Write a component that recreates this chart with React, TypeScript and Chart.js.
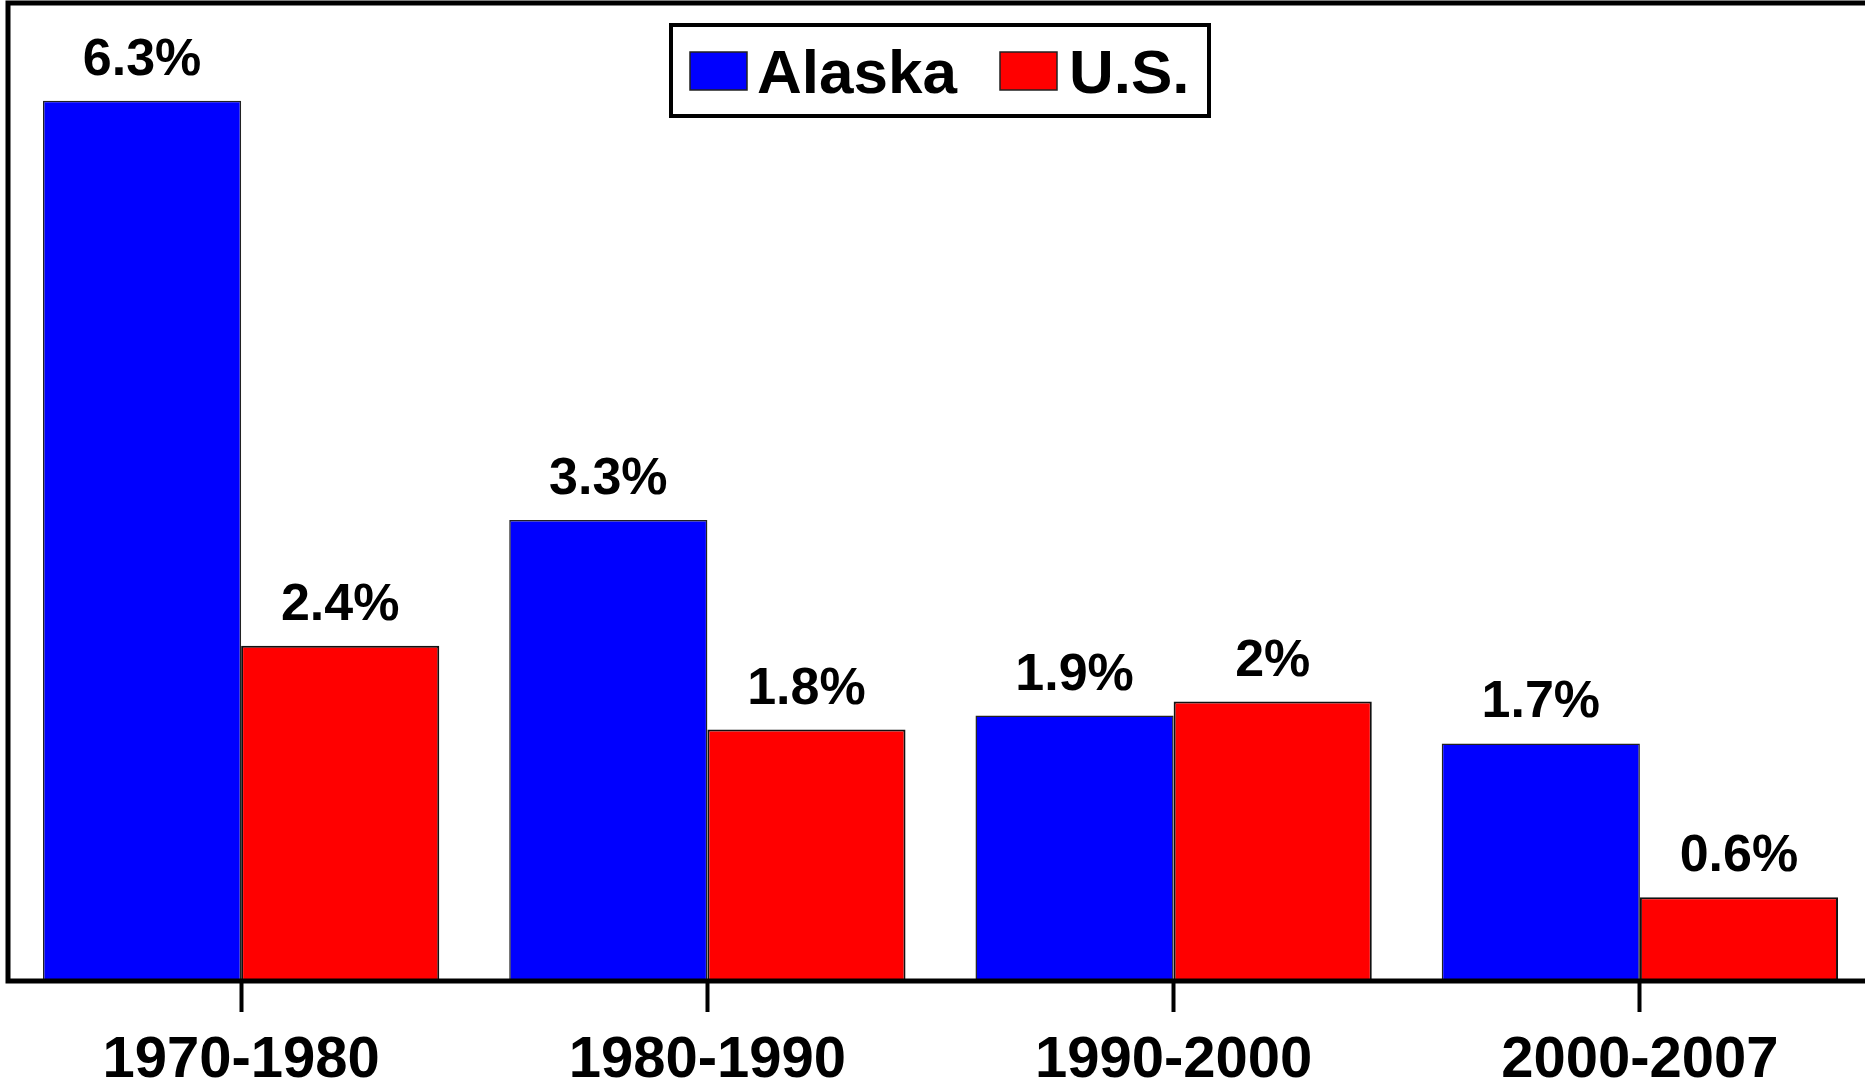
import React, { useEffect, useRef } from "react";
import { Chart, registerables } from "chart.js";

Chart.register(...registerables);

const categories = ["1970-1980", "1980-1990", "1990-2000", "2000-2007"];
const alaskaValues = [6.3, 3.3, 1.9, 1.7];
const usValues = [2.4, 1.8, 2.0, 0.6];
const alaskaLabels = ["6.3%", "3.3%", "1.9%", "1.7%"];
const usLabels = ["2.4%", "1.8%", "2%", "0.6%"];
const seriesNames = ["Alaska", "U.S."];
const seriesColors = ["#0000FF", "#FF0000"];
const yMin = 0;
const yMax = 7;

const FONT = "'Liberation Sans', Arial, Helvetica, sans-serif";

const framePlugin = {
  id: "frame",
  afterDatasetsDraw(chart: any) {
    const { ctx, chartArea } = chart;
    ctx.save();
    ctx.strokeStyle = "#000";
    ctx.lineWidth = 5;
    ctx.strokeRect(chartArea.left, chartArea.top, chartArea.right - chartArea.left, chartArea.bottom - chartArea.top);
    ctx.restore();
  },
};

const valueLabelPlugin = {
  id: "valueLabels",
  afterDatasetsDraw(chart: any) {
    const { ctx } = chart;
    const labelSets = [alaskaLabels, usLabels];
    ctx.save();
    ctx.fillStyle = "#000";
    ctx.font = `bold 52px ${FONT}`;
    ctx.textAlign = "center";
    ctx.textBaseline = "alphabetic";
    chart.data.datasets.forEach((_: any, di: number) => {
      const meta = chart.getDatasetMeta(di);
      meta.data.forEach((bar: any, i: number) => {
        ctx.fillText(labelSets[di][i], bar.x, bar.y - 26);
      });
    });
    ctx.restore();
  },
};

const legendPlugin = {
  id: "boxLegend",
  afterDraw(chart: any) {
    const { ctx } = chart;
    ctx.save();
    ctx.fillStyle = "#fff";
    ctx.fillRect(671, 25, 538, 91);
    ctx.strokeStyle = "#000";
    ctx.lineWidth = 4;
    ctx.strokeRect(671, 25, 538, 91);
    const items = [
      { x: 690, tx: 757 },
      { x: 1000, tx: 1069 },
    ];
    ctx.font = `bold 62px ${FONT}`;
    ctx.textBaseline = "alphabetic";
    ctx.textAlign = "left";
    chart.data.datasets.forEach((ds: any, i: number) => {
      const it = items[i];
      ctx.fillStyle = ds.backgroundColor;
      ctx.fillRect(it.x, 52, 57, 38);
      ctx.strokeStyle = "#222";
      ctx.lineWidth = 1.5;
      ctx.strokeRect(it.x, 52, 57, 38);
      ctx.fillStyle = "#000";
      ctx.fillText(ds.label, it.tx, 93);
    });
    ctx.restore();
  },
};

export default function App() {
  const canvasRef = useRef<HTMLCanvasElement | null>(null);

  useEffect(() => {
    document.body.style.margin = "0";
    document.body.style.overflow = "hidden";
    document.documentElement.style.overflow = "hidden";
    const canvas = canvasRef.current;
    if (!canvas) return;
    const chart = new Chart(canvas, {
      type: "bar",
      data: {
        labels: categories,
        datasets: [
          {
            label: seriesNames[0],
            data: alaskaValues,
            backgroundColor: seriesColors[0],
            borderColor: "#222",
            borderWidth: 1.5,
            barPercentage: 1.0,
            categoryPercentage: 0.85,
          },
          {
            label: seriesNames[1],
            data: usValues,
            backgroundColor: seriesColors[1],
            borderColor: "#111",
            borderWidth: 2,
            barPercentage: 1.0,
            categoryPercentage: 0.85,
          },
        ],
      },
      options: {
        responsive: false,
        animation: false,
        devicePixelRatio: 1,
        layout: { padding: { left: 8, top: 3, right: 1, bottom: 0 } },
        plugins: {
          legend: { display: false },
          tooltip: { enabled: false },
          title: { display: false },
        },
        scales: {
          x: {
            offset: true,
            afterFit(scale: any) {
              scale.height = 105;
            },
            grid: {
              display: true,
              offset: false,
              drawOnChartArea: false,
              drawTicks: true,
              tickLength: 31,
              tickWidth: 4,
              tickColor: "#000",
            },
            border: { display: false },
            ticks: {
              color: "#000",
              padding: 20,
              maxRotation: 0,
              autoSkip: false,
              font: { family: FONT, size: 58, weight: "bold", lineHeight: 1 },
            },
          },
          y: {
            display: false,
            min: yMin,
            max: yMax,
          },
        },
      },
      plugins: [framePlugin, valueLabelPlugin, legendPlugin],
    } as any);
    return () => chart.destroy();
  }, []);

  return (
    <div style={{ width: 1865, height: 1086, overflow: "hidden", background: "#fff" }}>
      <canvas ref={canvasRef} width={1874} height={1086} style={{ display: "block" }} />
    </div>
  );
}
